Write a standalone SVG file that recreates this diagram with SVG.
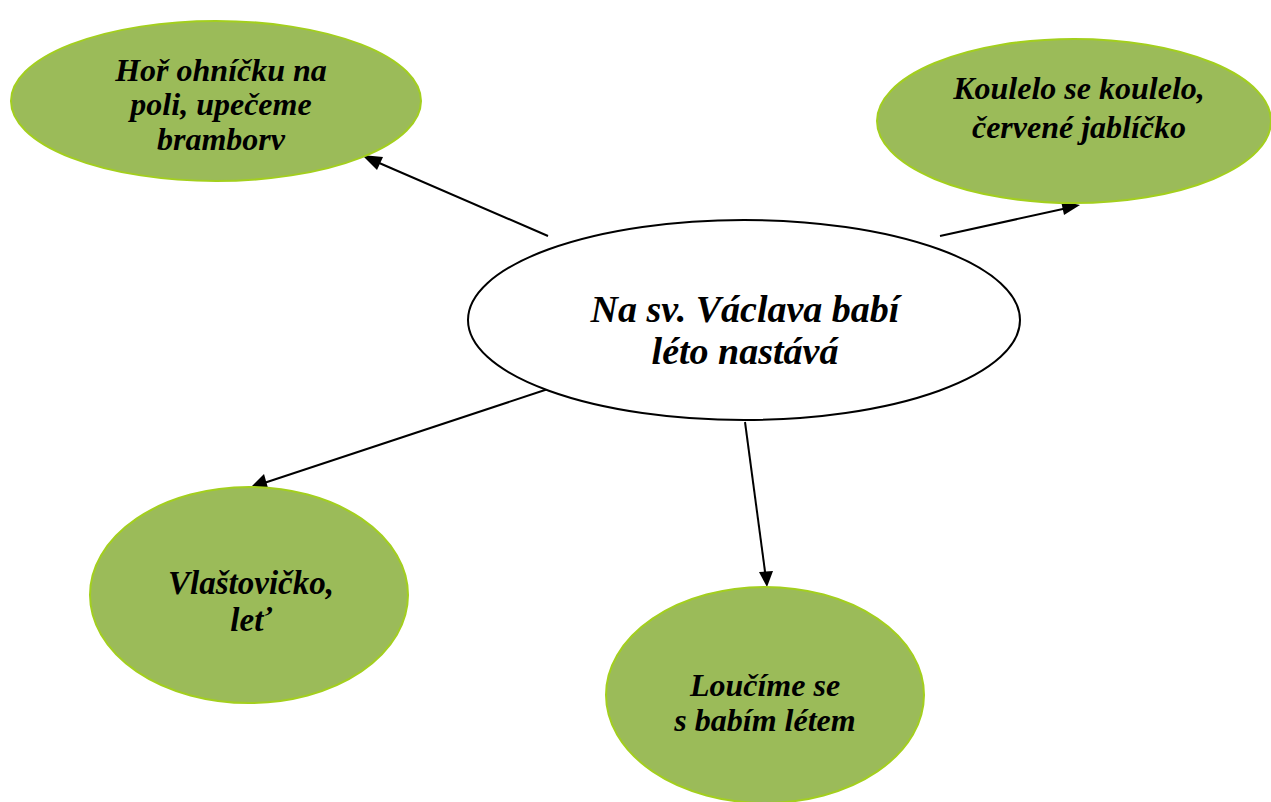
<svg xmlns="http://www.w3.org/2000/svg" width="1271" height="802" viewBox="0 0 1271 802">
<style>
.leaf{fill:#9BBB59;stroke:#A3CF1E;stroke-width:2}
.hub{fill:#FFFFFF;stroke:#000000;stroke-width:2}
.t{font-family:"Liberation Serif","Times New Roman",serif;font-weight:bold;font-style:italic;fill:#000;text-anchor:middle}
.s{font-size:32px}
.b{font-size:38px}
.c{stroke:#000;stroke-width:2;fill:none}
</style>
<rect width="1271" height="802" fill="#fff"/>
<g id="connectors">
<line class="c" x1="548" y1="236" x2="370" y2="159"/>
<line class="c" x1="940" y1="236" x2="1072" y2="207"/>
<line class="c" x1="548" y1="389" x2="258" y2="485"/>
<line class="c" x1="745" y1="422" x2="766" y2="579"/>
<path d="M362,155 L383,157 L377,170 z"/>
<path d="M1080,205 L1064,215 L1061,201 z"/>
<path d="M250,488 L264,474 L268,488 z"/>
<path d="M767,587 L759,572 L773,571 z"/>
</g>
<g id="hub">
<ellipse class="hub" cx="744" cy="320" rx="276" ry="100"/>
<text class="t b" x="745" y="322">Na sv. Václava babí</text>
<text class="t b" x="745" y="364">léto nastává</text>
</g>
<g id="n1">
<ellipse class="leaf" cx="216" cy="101" rx="205" ry="80"/>
<text class="t s" x="221" y="81">Hoř ohníčku na</text>
<text class="t s" x="221" y="115">poli, upečeme</text>
<text class="t s" x="221" y="150">bramborv</text>
</g>
<g id="n2">
<ellipse class="leaf" cx="1074" cy="121" rx="197" ry="82"/>
<text class="t s" x="1079" y="99">Koulelo se koulelo,</text>
<text class="t s" x="1079" y="138">červené jablíčko</text>
</g>
<g id="n3">
<ellipse class="leaf" cx="249" cy="595" rx="159" ry="108"/>
<text class="t s" x="251" y="594" style="font-size:33px">Vlaštovičko,</text>
<text class="t s" x="251" y="631" style="font-size:33px">leť</text>
</g>
<g id="n4">
<ellipse class="leaf" cx="765" cy="695" rx="159" ry="108"/>
<text class="t s" x="765" y="696">Loučíme se</text>
<text class="t s" x="765" y="731">s babím létem</text>
</g>
</svg>
